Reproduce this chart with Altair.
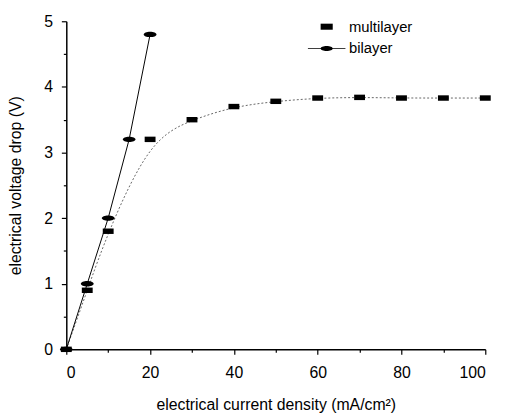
import altair as alt
import pandas as pd

# ---- data ----
multi_x = [0, 5, 10, 20, 30, 40, 50, 60, 70, 80, 90, 100]
multi_y = [0, 0.9, 1.8, 3.2, 3.5, 3.7, 3.78, 3.83, 3.84, 3.83, 3.83, 3.83]
bi_x = [0, 5, 10, 15, 20]
bi_y = [0, 1.0, 2.0, 3.2, 4.8]
series_names = ["multilayer", "bilayer"]
x_ticks = [0, 10, 20, 30, 40, 50, 60, 70, 80, 90, 100]
y_ticks = [0, 0.5, 1, 1.5, 2, 2.5, 3, 3.5, 4, 4.5, 5]

multi = pd.DataFrame({"x": multi_x, "y": multi_y, "series": series_names[0]})
bi = pd.DataFrame({"x": bi_x, "y": bi_y, "series": series_names[1]})
both = pd.concat([multi, bi], ignore_index=True)

RECT = "M-1,-0.5L1,-0.5L1,0.5L-1,0.5Z"
ELL = "M-1,0A1,0.42 0 1,1 1,0A1,0.42 0 1,1 -1,0Z"
ELL_LINE = ("M-1,0A1,0.42 0 1,1 1,0A1,0.42 0 1,1 -1,0Z"
            "M-3.1,-0.07L3.1,-0.07L3.1,0.07L-3.1,0.07Z")

FONT = "Liberation Sans"
W, H = 424, 332

xscale = alt.Scale(domain=[0, 100], nice=False, zero=False)
yscale = alt.Scale(domain=[0, 5], nice=False, zero=False)

xaxis = alt.Axis(
    values=x_ticks,
    format="d",
    labelExpr="datum.value % 20 === 0 ? datum.label : ''",
    tickSize={"condition": {"test": "datum.value % 20 === 0", "value": 5}, "value": 3},
    grid=False,
    title="electrical current density (mA/cm²)",
    titleX=W / 2,
    titleY=61,
    titleBaseline="alphabetic",
    labelPadding=11,
)
yaxis = alt.Axis(
    values=y_ticks,
    format=".0f",
    labelExpr="datum.value % 1 === 0 ? datum.label : ''",
    tickSize={"condition": {"test": "datum.value % 1 === 0", "value": 5}, "value": 3},
    grid=False,
    title="electrical voltage drop (V)",
    titleX=-46,
    titleY=H / 2,
    titleBaseline="alphabetic",
    labelPadding=9,
)

base_x = alt.X("x:Q", scale=xscale, axis=xaxis)
base_y = alt.Y("y:Q", scale=yscale, axis=yaxis)

multi_curve = alt.Chart(multi).mark_line(
    interpolate="basis", color="#666666", strokeWidth=1, strokeDash=[2, 2]
).encode(x=base_x, y=base_y)

bi_line = alt.Chart(bi).mark_line(color="black", strokeWidth=1).encode(x=base_x, y=base_y)

multi_pts = alt.Chart(multi).mark_point(
    shape=RECT, filled=True, color="black", size=121, opacity=1
).encode(x=base_x, y=base_y)

bi_pts = alt.Chart(bi).mark_point(
    shape=ELL, filled=True, color="black", size=169, opacity=1
).encode(x=base_x, y=base_y)

legend_layer = alt.Chart(both).transform_filter("false").mark_point(
    filled=True, color="black", opacity=1
).encode(
    x=base_x,
    y=base_y,
    shape=alt.Shape(
        "series:N",
        scale=alt.Scale(domain=series_names, range=[RECT, ELL_LINE]),
        legend=alt.Legend(
            title=None,
            orient="none",
            legendX=256,
            legendY=-2,
            symbolSize=150,
            symbolFillColor="black",
            symbolStrokeWidth=0,
            labelFont=FONT,
            labelFontSize=15,
            labelColor="black",
            labelOffset=15,
            rowPadding=6,
            padding=0,
        ),
    ),
)

chart = alt.layer(multi_curve, bi_line, multi_pts, bi_pts, legend_layer).properties(
    width=W,
    height=H,
    autosize=alt.AutoSizeParams(type="none"),
    padding={"left": 59, "top": 11, "right": 24, "bottom": 62},
).configure_view(strokeWidth=0).configure_axis(
    domainColor="black",
    domainWidth=1.5,
    tickColor="black",
    tickWidth=1.2,
    labelColor="black",
    labelFont=FONT,
    labelFontSize=16,
    titleFont=FONT,
    titleFontSize=16,
    titleFontWeight="normal",
    titleColor="black",
)

chart.save("out.html", embed_options={"renderer": "svg", "actions": False})
